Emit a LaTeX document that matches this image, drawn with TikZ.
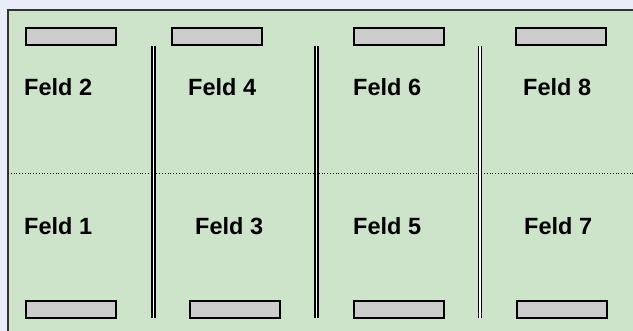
\documentclass[tikz,border=0pt]{standalone}
\usepackage{fontspec}
\setmainfont{Liberation Sans}
\usetikzlibrary{positioning}
\definecolor{pagebg}{HTML}{E9EDF7}
\definecolor{fieldgreen}{HTML}{CDE4CA}
\definecolor{slotgray}{HTML}{CCCCCC}

\begin{document}
\begin{tikzpicture}[x=1pt,y=-1pt,
  slot/.style={draw,line width=1.9pt,fill=slotgray,minimum width=90pt,minimum height=17pt,inner sep=0pt},
  lbl/.style={anchor=base west,inner sep=0pt,font=\bfseries\fontsize{23.5}{28}\selectfont},
  sep/.style={double,line width=1.5pt,double distance=1.5pt}]
\useasboundingbox (0,0) rectangle (633,331);
\fill[pagebg] (0,0) rectangle (633,331);
\draw[line width=1.6pt,draw=black!80,fill=fieldgreen] (8,10) rectangle (645,345);
% Trennlinie Mitte
\coordinate (midL) at (8,173);
\coordinate (midR) at (633,173);
\draw[dotted,line width=0.8pt] (midL)--(midR);
% obere Leisten
\node[slot] (top1) at (71,36.5) {};
\node[slot] (top2) at (217,36.5) {};
\node[slot] (top3) at (399,36.5) {};
\node[slot] (top4) at (561,36.5) {};
% untere Leisten
\node[slot] (bot1) at (71,309.5) {};
\node[slot] (bot2) at (235,309.5) {};
\node[slot] (bot3) at (399,309.5) {};
\node[slot] (bot4) at (562,309.5) {};
% Doppellinien
\foreach \i/\x in {1/153.5,2/316.5,3/480}{
  \coordinate (sepT\i) at (\x,46);
  \coordinate (sepB\i) at (\x,318);
  \draw[sep] (sepT\i)--(sepB\i);
}
% Felder
\node[lbl] (f2) at (24,96) {Feld 2};
\node[lbl] (f4) at (188,96) {Feld 4};
\node[lbl] (f6) at (353,96) {Feld 6};
\node[lbl] (f8) at (523,96) {Feld 8};
\node[lbl] (f1) at (24,235) {Feld 1};
\node[lbl] (f3) at (195,235) {Feld 3};
\node[lbl] (f5) at (353,235) {Feld 5};
\node[lbl] (f7) at (524,235) {Feld 7};
\end{tikzpicture}
\end{document}
